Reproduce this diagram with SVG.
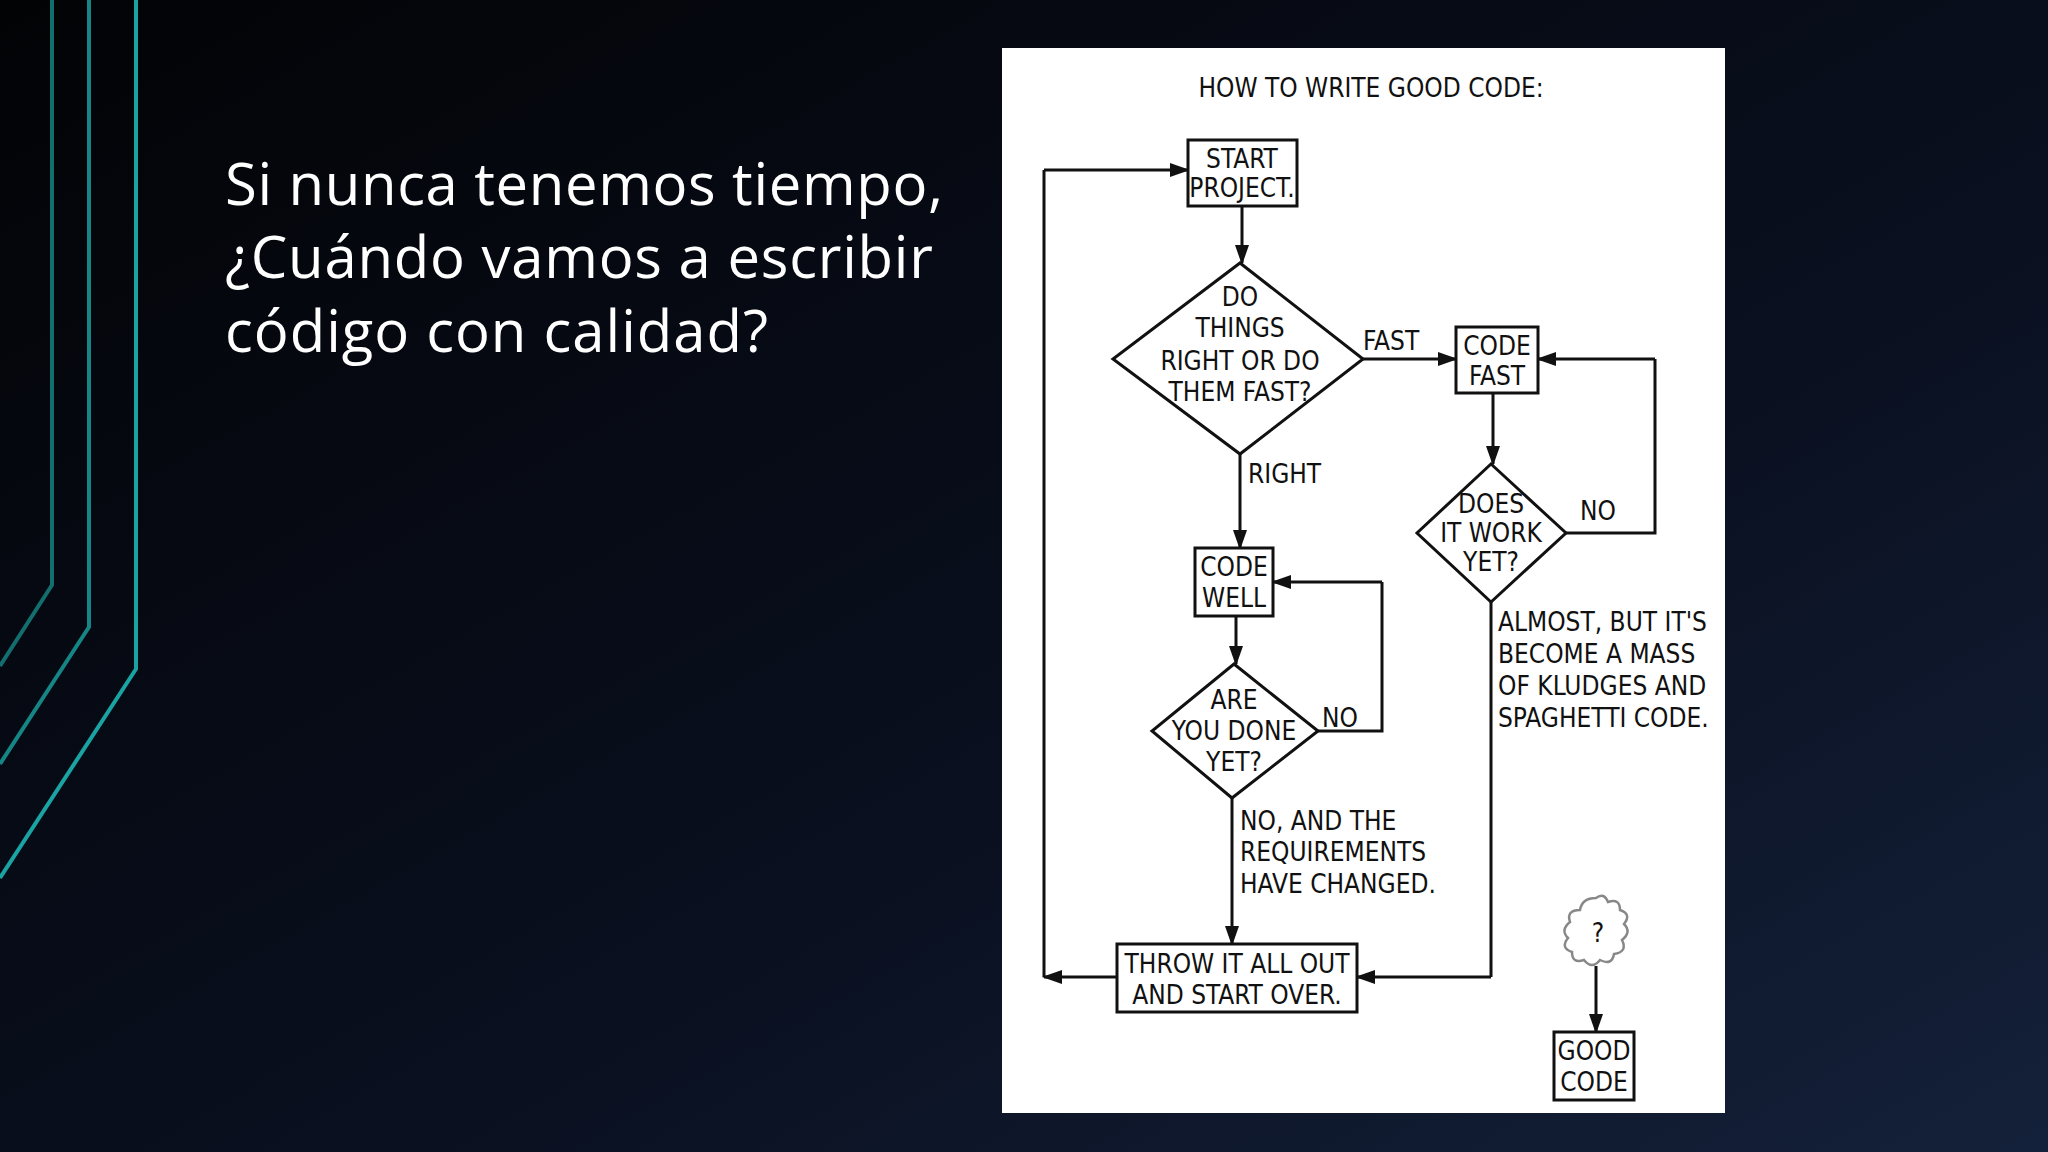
<svg xmlns="http://www.w3.org/2000/svg" width="2048" height="1152" viewBox="0 0 2048 1152">
<defs>
<linearGradient id="bg" x1="0" y1="0" x2="1" y2="1">
<stop offset="0" stop-color="#020305"/><stop offset="0.6" stop-color="#0a1020"/><stop offset="1" stop-color="#14213a"/>
</linearGradient>
<marker id="ah" markerWidth="10" markerHeight="10" refX="9" refY="5" orient="auto" markerUnits="userSpaceOnUse"><path d="M0,0 L10,5 L0,10 z" fill="#111"/></marker>
<marker id="ahL" markerWidth="20" markerHeight="14" refX="18" refY="7" orient="auto" markerUnits="userSpaceOnUse"><path d="M0,0 L20,7 L0,14 z" fill="#111"/></marker>
<style>
.n{fill:#fff;stroke:#111;stroke-width:3}
.c{fill:none;stroke:#111;stroke-width:3;marker-end:url(#ahL)}
.l{fill:none;stroke:#111;stroke-width:3}
.t{font-family:"DejaVu Sans Condensed","Liberation Sans",sans-serif;font-size:26px;fill:#111;text-anchor:middle}
.tl{font-family:"DejaVu Sans Condensed","Liberation Sans",sans-serif;font-size:26px;fill:#111}
.tea{fill:none;stroke-width:4}
</style>
</defs>
<rect width="2048" height="1152" fill="url(#bg)"/>
<g id="deco">
<polyline class="tea" stroke="#136e6e" points="52,0 52,585 0,666"/>
<polyline class="tea" stroke="#168585" points="89,0 89,627 0,764"/>
<polyline class="tea" stroke="#1aa3a3" points="136,0 136,669 0,878"/>
</g>
<g id="heading" font-family="'Open Sans','Noto Sans',sans-serif" font-size="58" fill="#fff">
<text x="225" y="205" textLength="718">Si nunca tenemos tiempo,</text>
<text x="225" y="278" textLength="708">¿Cuándo vamos a escribir</text>
<text x="225" y="352" textLength="543">código con calidad?</text>
</g>
<rect x="1002" y="48" width="723" height="1065" fill="#fff"/>
<text class="t" x="1371" y="97" font-size="34">HOW TO WRITE GOOD CODE:</text>
<g id="connectors">
<path class="c" d="M1242,206 L1242,263"/>
<path class="c" d="M1363,359 L1456,359"/>
<path class="c" d="M1493,393 L1493,464"/>
<path class="l" d="M1566,533 L1655,533 L1655,359"/>
<path class="c" d="M1655,359 L1538,359"/>
<path class="c" d="M1240,454 L1240,548"/>
<path class="c" d="M1236,616 L1236,664"/>
<path class="l" d="M1318,731 L1382,731 L1382,582"/>
<path class="c" d="M1382,582 L1273,582"/>
<path class="c" d="M1232,798 L1232,944"/>
<path class="l" d="M1491,602 L1491,977"/>
<path class="c" d="M1491,977 L1357,977"/>
<path class="c" d="M1117,977 L1044,977"/>
<path class="l" d="M1044,977 L1044,170"/>
<path class="c" d="M1044,170 L1188,170"/>
<path class="c" d="M1596,966 L1596,1032"/>
<text class="tl" x="1363" y="350">FAST</text>
<text class="tl" x="1248" y="483">RIGHT</text>
<text class="tl" x="1580" y="520">NO</text>
<text class="tl" x="1322" y="727">NO</text>
<text class="tl" x="1240" y="830">NO, AND THE</text>
<text class="tl" x="1240" y="861">REQUIREMENTS</text>
<text class="tl" x="1240" y="893">HAVE CHANGED.</text>
<text class="tl" x="1498" y="631">ALMOST, BUT IT'S</text>
<text class="tl" x="1498" y="663">BECOME A MASS</text>
<text class="tl" x="1498" y="695">OF KLUDGES AND</text>
<text class="tl" x="1498" y="727">SPAGHETTI CODE.</text>
</g>
<g id="start"><rect class="n" x="1188" y="140" width="109" height="66"/><text class="t" x="1242" y="168">START</text><text class="t" x="1242" y="197">PROJECT.</text></g>
<g id="d1"><polygon class="n" points="1240,263 1363,359 1240,454 1113,359"/><text class="t" x="1240" y="306">DO</text><text class="t" x="1240" y="337">THINGS</text><text class="t" x="1240" y="370">RIGHT OR DO</text><text class="t" x="1240" y="401">THEM FAST?</text></g>
<g id="codefast"><rect class="n" x="1456" y="327" width="82" height="66"/><text class="t" x="1497" y="355">CODE</text><text class="t" x="1497" y="385">FAST</text></g>
<g id="d2"><polygon class="n" points="1491,464 1566,533 1491,602 1417,533"/><text class="t" x="1491" y="513">DOES</text><text class="t" x="1491" y="542">IT WORK</text><text class="t" x="1491" y="571">YET?</text></g>
<g id="codewell"><rect class="n" x="1195" y="548" width="78" height="68"/><text class="t" x="1234" y="576">CODE</text><text class="t" x="1234" y="607">WELL</text></g>
<g id="d3"><polygon class="n" points="1234,664 1318,731 1232,798 1152,731"/><text class="t" x="1234" y="709">ARE</text><text class="t" x="1234" y="740">YOU DONE</text><text class="t" x="1234" y="771">YET?</text></g>
<g id="throw"><rect class="n" x="1117" y="944" width="240" height="68"/><text class="t" x="1237" y="973">THROW IT ALL OUT</text><text class="t" x="1237" y="1004">AND START OVER.</text></g>
<g id="cloud"><path d="M1596,898 q8,-6 12,4 q12,-4 12,8 q12,4 4,14 q8,8 -2,16 q6,12 -8,14 q-2,12 -14,6 q-8,10 -16,0 q-12,4 -12,-8 q-12,-4 -4,-14 q-8,-8 2,-16 q-4,-12 10,-12 q2,-12 16,-12 z" fill="#fff" stroke="#888" stroke-width="2.5"/><text class="t" x="1598" y="942" font-size="30">?</text></g>
<g id="good"><rect class="n" x="1554" y="1032" width="80" height="68"/><text class="t" x="1594" y="1060">GOOD</text><text class="t" x="1594" y="1091">CODE</text></g>
</svg>
